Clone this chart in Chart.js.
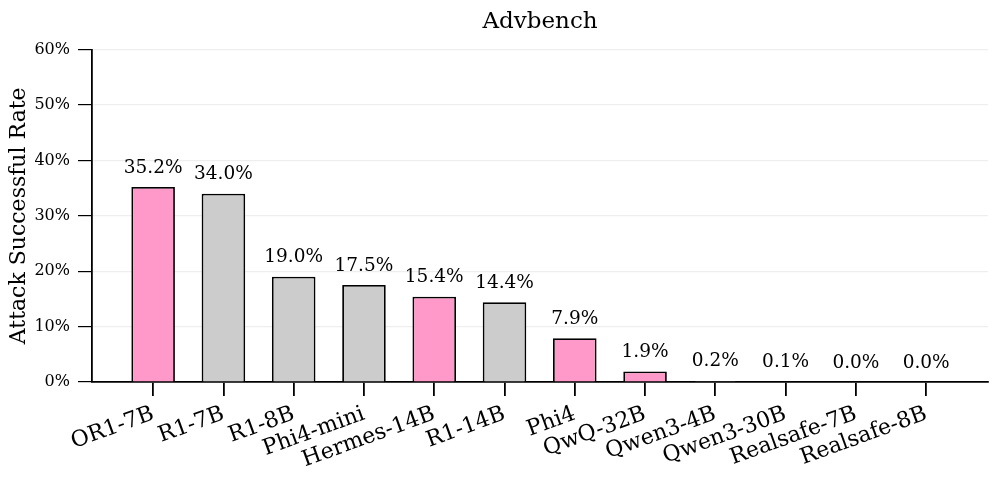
<!DOCTYPE html>
<html>
<head>
<meta charset="utf-8">
<script src="https://cdn.jsdelivr.net/npm/chart.js@4/dist/chart.umd.min.js"></script>
<style>
  html, body { margin: 0; padding: 0; background: #fff; }
  #wrap { width: 997px; height: 480px; }
</style>
</head>
<body>
<div id="wrap"><canvas id="chart"></canvas></div>
<script>
// data
let models = ["OR1-7B", "R1-7B", "R1-8B", "Phi4-mini", "Hermes-14B", "R1-14B",
              "Phi4", "QwQ-32B", "Qwen3-4B", "Qwen3-30B", "Realsafe-7B", "Realsafe-8B"];
let asr = [35.2, 34.0, 19.0, 17.5, 15.4, 14.4, 7.9, 1.9, 0.2, 0.1, 0.0, 0.0];
let highlighted = [true, false, false, false, true, false, true, true, false, false, false, false];
let yTicks = [0, 10, 20, 30, 40, 50, 60];

const PINK = "#ff99c9";
const GREY = "#cccccc";
const SERIF = "'DejaVu Serif', serif";

// value labels above each bar
const valueLabels = {
    id: "valueLabels",
    afterDatasetsDraw(chart) {
        let ctx = chart.ctx;
        let meta = chart.getDatasetMeta(0);
        ctx.save();
        ctx.font = "18.5px " + SERIF;
        ctx.fillStyle = "#000";
        ctx.textAlign = "center";
        ctx.textBaseline = "bottom";
        meta.data.forEach((bar, i) => {
            ctx.fillText(asr[i].toFixed(1) + "%", bar.x, bar.y - 10);
        });
        ctx.restore();
    }
};

new Chart(document.getElementById("chart"), {
    type: "bar",
    data: {
        datasets: [{
            data: asr.map((v, i) => ({ x: i, y: v })),
            backgroundColor: highlighted.map(h => h ? PINK : GREY),
            borderColor: "#000",
            borderWidth: 1.8,
            borderSkipped: "bottom",
            categoryPercentage: 1,
            barPercentage: 0.62
        }]
    },
    options: {
        responsive: true,
        maintainAspectRatio: false,
        animation: false,
        layout: { padding: { left: 0, right: 9, top: 0, bottom: 0 } },
        plugins: {
            legend: { display: false },
            tooltip: { enabled: false },
            title: {
                display: true,
                text: "Advbench",
                fullSize: false,
                color: "#000",
                font: { family: SERIF, size: 23, weight: "normal" },
                padding: { top: 8, bottom: 14 }
            }
        },
        scales: {
            x: {
                type: "linear",
                offset: false,
                min: -0.87,
                max: 11.88,
                afterBuildTicks: s => { s.ticks = models.map((m, i) => ({ value: i })); },
                afterFit: s => { s.height = 98; },
                ticks: {
                    autoSkip: false,
                    maxRotation: 20,
                    minRotation: 20,
                    padding: 5,
                    color: "#000",
                    font: { family: SERIF, size: 22 },
                    callback: v => models[v] ?? ""
                },
                grid: { offset: false, drawOnChartArea: false, tickLength: 14, tickColor: "#000", lineWidth: 1.8 },
                border: { color: "#000", width: 1.8 }
            },
            y: {
                min: 0,
                max: 60,
                afterBuildTicks: s => { s.ticks = yTicks.map(v => ({ value: v })); },
                afterFit: s => { s.width = 92; },
                ticks: {
                    padding: 8,
                    color: "#000",
                    font: { family: SERIF, size: 16 },
                    callback: v => v + "%"
                },
                grid: { color: "#eeeeee", lineWidth: 1.2, tickLength: 14, tickColor: "#000" },
                border: { color: "#000", width: 1.8 },
                title: {
                    display: true,
                    text: "Attack Successful Rate",
                    color: "#000",
                    font: { family: SERIF, size: 22 },
                    padding: { top: 6, bottom: 0 }
                }
            }
        }
    },
    plugins: [valueLabels]
});
</script>
</body>
</html>
